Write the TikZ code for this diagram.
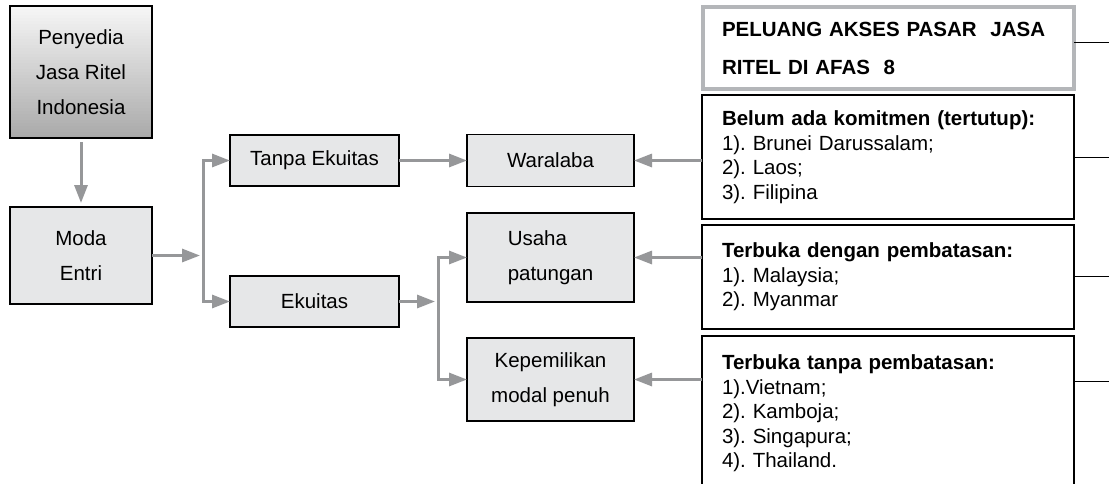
\documentclass[tikz,border=0pt]{standalone}
\usepackage{fontspec}
\setmainfont{Liberation Sans}
\usetikzlibrary{arrows.meta,calc}
\definecolor{arrgray}{RGB}{150,151,153}
\definecolor{boxfill}{RGB}{230,231,232}
\definecolor{titlegray}{RGB}{180,182,185}
\definecolor{gradtop}{RGB}{246,246,246}
\definecolor{gradbot}{RGB}{170,170,170}
\frenchspacing
\tikzset{
  lbox/.style={draw=black, line width=1.4pt, fill=boxfill, inner sep=0pt, outer sep=0pt,
    align=center, font=\fontsize{20.5pt}{35pt}\selectfont},
  rbox/.style={draw=black, line width=1.4pt, fill=white, inner xsep=20pt, inner ysep=0pt, outer sep=0pt,
    align=left, text width=332pt, minimum width=372pt, font=\fontsize{20.5pt}{24.5pt}\selectfont},
  arr/.style={draw=arrgray, line width=3pt, -{Triangle[length=18pt,width=13pt]}},
  thinline/.style={draw=black, line width=1pt},
}
\begin{document}
\begin{tikzpicture}[x=1pt,y=-1pt]
\clip (0,0) rectangle (1109,483);
\fill[white] (0,0) rectangle (1109,483);
% gradient fill of the top-left box, drawn in strips
\foreach \i in {0,...,43}{
  \pgfmathsetmacro{\pct}{\i/43*100}
  \fill[gradbot!\pct!gradtop] (10,{6+3*\i}) rectangle (152,{6+3*\i+3.2});
}
% left column
\node[lbox, fill=none, minimum width=142pt, minimum height=132pt] (pen) at (81,72) {Penyedia\\Jasa Ritel\\Indonesia};
\node[lbox, minimum width=142pt, minimum height=97pt] (moda) at (81,255.5) {Moda\\Entri};
\node[lbox, minimum width=169pt, minimum height=51pt] (tanpa) at (314.5,160.5) {Tanpa Ekuitas};
\node[lbox, minimum width=169pt, minimum height=51pt] (eku) at (314.5,301.5) {Ekuitas};
\node[lbox, minimum width=167pt, minimum height=52pt] (wara) at (550.5,160.5) {Waralaba};
\node[lbox, align=left, minimum width=167pt, minimum height=89pt] (usaha) at (550.5,257.5) {Usaha\\patungan};
\node[lbox, minimum width=167pt, minimum height=83pt] (kepe) at (550.5,379.5) {Kepemilikan\\modal penuh};
% right column
\node[draw=titlegray, line width=4pt, fill=white, inner xsep=19pt, inner ysep=0pt, outer sep=0pt,
  align=left, text width=333pt, minimum width=371pt, minimum height=82pt,
  font=\fontsize{20.5pt}{38pt}\selectfont\bfseries] (title) at (888.5,48)
  {PELUANG AKSES PASAR\ \ JASA\\RITEL DI AFAS\ \ 8};
\node[rbox, minimum height=124pt] (belum) at (888,157)
  {\textbf{Belum ada komitmen (tertutup):}\\1). Brunei Darussalam;\\2). Laos;\\3). Filipina};
\node[rbox, minimum height=104pt] (dengan) at (888,277)
  {\textbf{Terbuka dengan pembatasan:}\\1). Malaysia;\\2). Myanmar};
\node[rbox, minimum height=155pt] (tanpab) at (888,413.5)
  {\textbf{Terbuka tanpa pembatasan:}\\1).Vietnam;\\2). Kamboja;\\3). Singapura;\\4). Thailand.};
% junction coordinates
\coordinate (v1) at (203,255.5);
\coordinate (v2) at (438,301.5);
\coordinate (e1) at (1109,42);
\coordinate (e2) at (1109,157);
\coordinate (e3) at (1109,276);
\coordinate (e4) at (1109,381);
% arrows
\draw[arr, shorten <=4pt, shorten >=4pt] (pen.south) -- (moda.north);
\draw[arr, shorten >=3pt] (moda.east) -- (v1);
\draw[arr] (v1) |- (tanpa.west);
\draw[arr] (v1) |- (eku.west);
\draw[arr] (tanpa.east) -- (tanpa.east -| wara.west);
\draw[arr, shorten >=3pt] (eku.east) -- (v2);
\draw[arr] (v2) |- (usaha.west);
\draw[arr] (v2) |- (kepe.west);
\draw[arr] (belum.west |- wara.east) -- (wara.east);
\draw[arr] (dengan.west |- usaha.east) -- (usaha.east);
\draw[arr] (tanpab.west |- kepe.east) -- (kepe.east);
% right thin lines
\draw[thinline] (title.east |- e1) -- (e1);
\draw[thinline] (belum.east |- e2) -- (e2);
\draw[thinline] (dengan.east |- e3) -- (e3);
\draw[thinline] (tanpab.east |- e4) -- (e4);
\end{tikzpicture}
\end{document}
